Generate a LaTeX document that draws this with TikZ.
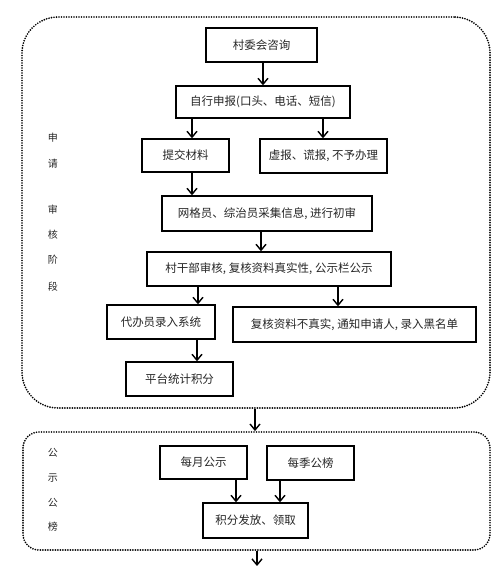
\documentclass[tikz,border=0pt]{standalone}
\usepackage{fontspec}
\setmainfont{Noto Sans CJK SC}
\usetikzlibrary{arrows.meta}
\begin{document}
\begin{tikzpicture}[x=1pt,y=-1pt,
  box/.style={draw=black,line width=1.4pt,inner sep=0pt,font=\fontsize{11.5}{12}\selectfont,text=black!85},
  arr/.style={line width=1.4pt,-{Straight Barb[length=6pt,width=10pt,line width=1.4pt]}},
  panel/.style={draw=black,line width=1.9pt,line cap=round,dash pattern=on 0pt off 2.5pt,inner sep=0pt},
  side/.style={font=\fontsize{10}{10}\selectfont,text=black!85}]
\useasboundingbox (0,0) rectangle (500,566);
\fill[white] (0,0) rectangle (500,566);
% panels
\node[panel,rounded corners=36pt,minimum width=468pt,minimum height=391pt] (p1) at (256,212.5) {};
\node[panel,rounded corners=16pt,minimum width=467pt,minimum height=118pt] (p2) at (256.5,491) {};
% side labels
\node[side] (s1) at (53,138) {申};
\node[side] (s2) at (53,164) {请};
\node[side] (s3) at (53,210) {审};
\node[side] (s4) at (53,235) {核};
\node[side] (s5) at (53,260) {阶};
\node[side] (s6) at (53,287) {段};
\node[side] (t1) at (53,453) {公};
\node[side] (t2) at (53,478) {示};
\node[side] (t3) at (53,503) {公};
\node[side] (t4) at (53,527) {榜};
% boxes
\node[box,minimum width=111pt,minimum height=34pt] (n1) at (261.5,45) {村委会咨询};
\node[box,minimum width=174pt,minimum height=32pt] (n2) at (263,102) {自行申报(口头、电话、短信)};
\node[box,minimum width=87pt,minimum height=33pt] (n3) at (185.5,155.5) {提交材料};
\node[box,minimum width=127pt,minimum height=34pt] (n4) at (323.5,156) {虚报、谎报, 不予办理};
\node[box,minimum width=210pt,minimum height=35pt] (n5) at (267,213.5) {网格员、综治员采集信息, 进行初审};
\node[box,minimum width=244pt,minimum height=34pt] (n6) at (269,269) {村干部审核, 复核资料真实性, 公示栏公示};
\node[box,minimum width=108pt,minimum height=34pt] (n7) at (161,322) {代办员录入系统};
\node[box,minimum width=243pt,minimum height=35pt] (n8) at (354.5,324.5) {复核资料不真实, 通知申请人, 录入黑名单};
\node[box,minimum width=107pt,minimum height=34pt] (n9) at (179.5,379) {平台统计积分};
\node[box,minimum width=87pt,minimum height=33pt] (m1) at (203.5,462.5) {每月公示};
\node[box,minimum width=87pt,minimum height=34pt] (m2) at (310.5,463) {每季公榜};
\node[box,minimum width=105pt,minimum height=35pt] (m3) at (255.5,520.5) {积分发放、领取};
% arrow x positions
\coordinate (a1) at (263,0);
\coordinate (a2) at (192,0);
\coordinate (a3) at (323,0);
\coordinate (a4) at (261,0);
\coordinate (a5) at (198,0);
\coordinate (a6) at (338,0);
\coordinate (a7) at (197,0);
\coordinate (a8) at (255,0);
\coordinate (a9) at (236,0);
\coordinate (a10) at (280,0);
\coordinate (end) at (257,566);
% connectors
\draw[arr] (n1.south -| a1) -- (n2.north -| a1);
\draw[arr] (n2.south -| a2) -- (n3.north -| a2);
\draw[arr] (n2.south -| a3) -- (n4.north -| a3);
\draw[arr] (n3.south -| a2) -- (n5.north -| a2);
\draw[arr] (n5.south -| a4) -- (n6.north -| a4);
\draw[arr] (n6.south -| a5) -- (n7.north -| a5);
\draw[arr] (n6.south -| a6) -- (n8.north -| a6);
\draw[arr] (n7.south -| a7) -- (n9.north -| a7);
\draw[arr] (p1.south -| a8) -- (p2.north -| a8);
\draw[arr] (m1.south -| a9) -- (m3.north -| a9);
\draw[arr] (m2.south -| a10) -- (m3.north -| a10);
\draw[arr] (p2.south -| end) -- (end);
\end{tikzpicture}
\end{document}
